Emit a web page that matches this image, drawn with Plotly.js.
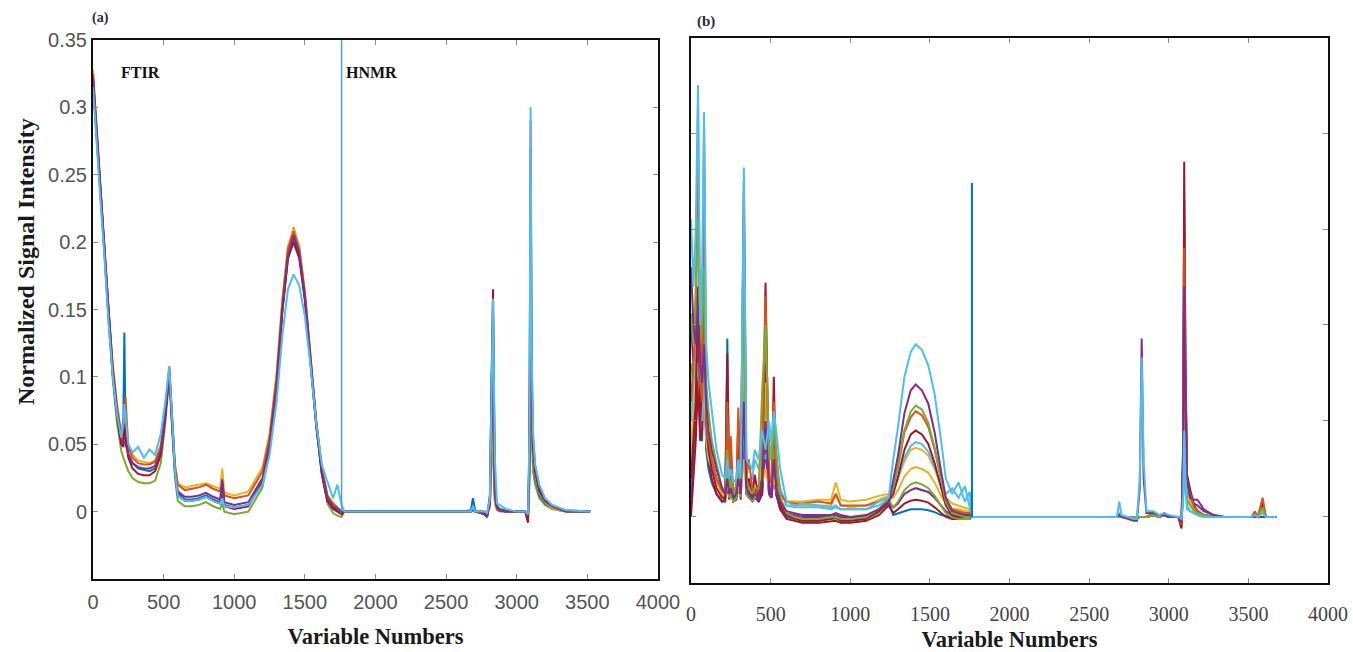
<!DOCTYPE html>
<html>
<head>
<meta charset="utf-8">
<script src="https://cdn.plot.ly/plotly-3.0.1.min.js"></script>
<style>html,body{margin:0;padding:0;background:#fff;}#chart{width:1353px;height:652px;}</style>
</head>
<body>
<div id="chart"></div>
<script>
// ---------- Panel (a) : variable grid ----------
const xA_ftir = [0, 20, 50, 80, 110, 140, 170, 200, 215, 222, 230, 250, 280, 320, 360, 400, 440, 480, 510, 540, 560, 580, 600, 650, 700, 750, 800, 850, 900, 915, 930, 1000, 1100, 1200, 1250, 1300, 1340, 1380, 1420, 1460, 1500, 1540, 1580, 1620, 1660, 1700, 1730, 1760];
const xA_hnmr = [1780, 2600, 2675, 2690, 2705, 2770, 2790, 2810, 2822, 2832, 2845, 2860, 2880, 2920, 3000, 3060, 3080, 3090, 3098, 3106, 3115, 3130, 3160, 3200, 3250, 3300, 3350, 3520];

const aBlue_ftir   = [0.318, 0.285, 0.24, 0.195, 0.142, 0.102, 0.072, 0.052, 0.07, 0.133, 0.06, 0.042, 0.036, 0.032, 0.031, 0.03, 0.032, 0.044, 0.07, 0.104, 0.066, 0.032, 0.014, 0.009, 0.009, 0.01, 0.012, 0.009, 0.007, 0.012, 0.005, 0.003, 0.005, 0.022, 0.047, 0.092, 0.148, 0.188, 0.203, 0.19, 0.158, 0.112, 0.064, 0.028, 0.008, 0.003, 0.001, 0.0];
const aOrange_ftir = [0.325, 0.292, 0.247, 0.2, 0.148, 0.108, 0.078, 0.057, 0.055, 0.06, 0.085, 0.048, 0.04, 0.036, 0.035, 0.035, 0.037, 0.048, 0.072, 0.107, 0.07, 0.034, 0.02, 0.016, 0.017, 0.018, 0.02, 0.017, 0.015, 0.02, 0.012, 0.01, 0.012, 0.03, 0.055, 0.1, 0.155, 0.195, 0.208, 0.195, 0.162, 0.115, 0.068, 0.032, 0.012, 0.006, 0.003, 0.0];
const aYellow_ftir = [0.328, 0.295, 0.25, 0.202, 0.15, 0.11, 0.08, 0.058, 0.055, 0.056, 0.065, 0.05, 0.042, 0.038, 0.037, 0.036, 0.038, 0.05, 0.075, 0.108, 0.072, 0.036, 0.021, 0.018, 0.019, 0.02, 0.021, 0.019, 0.017, 0.032, 0.014, 0.012, 0.015, 0.033, 0.058, 0.103, 0.157, 0.197, 0.21, 0.197, 0.163, 0.116, 0.068, 0.032, 0.012, 0.006, 0.003, 0.0];
const aPurple_ftir = [0.322, 0.29, 0.245, 0.198, 0.145, 0.105, 0.075, 0.055, 0.05, 0.052, 0.05, 0.043, 0.036, 0.033, 0.032, 0.032, 0.034, 0.045, 0.07, 0.105, 0.068, 0.031, 0.015, 0.011, 0.011, 0.012, 0.014, 0.011, 0.009, 0.024, 0.007, 0.005, 0.007, 0.025, 0.05, 0.095, 0.15, 0.19, 0.205, 0.192, 0.16, 0.113, 0.066, 0.03, 0.01, 0.004, 0.002, 0.0];
const aGreen_ftir  = [0.32, 0.288, 0.243, 0.196, 0.14, 0.098, 0.066, 0.045, 0.04, 0.038, 0.036, 0.03, 0.025, 0.022, 0.021, 0.021, 0.023, 0.036, 0.064, 0.1, 0.062, 0.026, 0.008, 0.004, 0.004, 0.005, 0.007, 0.004, 0.002, 0.006, 0.0, -0.002, 0.0, 0.018, 0.045, 0.092, 0.15, 0.192, 0.211, 0.196, 0.162, 0.114, 0.066, 0.028, 0.006, -0.001, -0.003, -0.004];
const aCyan_ftir   = [0.315, 0.28, 0.235, 0.19, 0.14, 0.1, 0.072, 0.055, 0.065, 0.08, 0.07, 0.05, 0.044, 0.048, 0.04, 0.046, 0.042, 0.058, 0.08, 0.108, 0.07, 0.03, 0.012, 0.008, 0.008, 0.009, 0.011, 0.008, 0.006, 0.01, 0.004, 0.003, 0.005, 0.02, 0.042, 0.082, 0.13, 0.165, 0.176, 0.168, 0.145, 0.108, 0.066, 0.035, 0.022, 0.01, 0.02, 0.005];
const aRed_ftir    = [0.321, 0.289, 0.244, 0.197, 0.143, 0.102, 0.07, 0.05, 0.048, 0.065, 0.055, 0.04, 0.032, 0.028, 0.027, 0.027, 0.03, 0.042, 0.068, 0.103, 0.065, 0.029, 0.012, 0.008, 0.008, 0.009, 0.011, 0.008, 0.006, 0.022, 0.004, 0.002, 0.004, 0.022, 0.048, 0.093, 0.148, 0.188, 0.2, 0.188, 0.157, 0.111, 0.064, 0.028, 0.008, 0.002, 0.0, -0.002];

const aBlue_hnmr   = [0, 0, 0.001, 0.01, 0.001, -0.002, -0.004, 0.01, 0.1, 0.15, 0.02, 0.004, 0.002, 0.001, 0, 0, -0.002, 0.03, 0.15, 0.07, 0.04, 0.025, 0.012, 0.006, 0.003, 0.001, 0, 0];
const aOrange_hnmr = [0, 0, 0, 0.002, 0, 0, -0.002, 0.005, 0.06, 0.1, 0.01, 0.002, 0.001, 0, 0, 0, -0.008, 0.05, 0.29, 0.1, 0.05, 0.03, 0.016, 0.008, 0.004, 0.002, 0, 0];
const aYellow_hnmr = [0, 0, 0, 0.001, 0, 0, -0.001, 0.004, 0.05, 0.08, 0.008, 0.002, 0.001, 0, 0, 0, -0.003, 0.04, 0.195, 0.08, 0.045, 0.028, 0.014, 0.007, 0.003, 0.001, 0, 0];
const aPurple_hnmr = [0, 0, 0, 0.002, 0, -0.002, -0.004, 0.006, 0.08, 0.12, 0.012, 0.003, 0.001, 0, 0, 0, -0.004, 0.05, 0.27, 0.11, 0.055, 0.034, 0.018, 0.009, 0.004, 0.002, 0.001, 0];
const aGreen_hnmr  = [0, 0, 0, 0.001, 0, 0, -0.001, 0.003, 0.04, 0.06, 0.006, 0.001, 0, 0, 0, 0, -0.002, 0.02, 0.09, 0.05, 0.03, 0.02, 0.01, 0.005, 0.002, 0.001, 0, 0];
const aCyan_hnmr   = [0, 0, 0, 0.004, 0, 0, -0.001, 0.01, 0.11, 0.158, 0.04, 0.006, 0.005, 0.002, 0, 0, -0.002, 0.06, 0.30, 0.12, 0.06, 0.035, 0.02, 0.01, 0.005, 0.003, 0.001, 0];
const aRed_hnmr    = [0, 0, 0, 0.002, 0, -0.001, -0.003, 0.012, 0.12, 0.165, 0.015, 0.003, 0.001, 0, 0, 0, -0.008, 0.04, 0.185, 0.085, 0.048, 0.03, 0.015, 0.008, 0.004, 0.002, 0, 0];

const aSeparatorX = [1760, 1760];
const aSeparatorY = [0, 0.35];

// ---------- Panel (b) : variable grid ----------
const xB_ftir = [0, 15, 30, 44, 58, 70, 82, 95, 110, 130, 160, 195, 215, 228, 240, 250, 265, 285, 297, 312, 332, 348, 363, 385, 400, 425, 447, 468, 490, 505, 520, 535, 560, 600, 650, 700, 800, 880, 909, 940, 1000, 1100, 1180, 1241, 1270, 1300, 1340, 1380, 1411, 1450, 1490, 1530, 1570, 1600, 1640, 1680, 1720, 1750, 1764];
const xB_hnmr = [1790, 2600, 2675, 2689, 2703, 2780, 2800, 2818, 2830, 2842, 2860, 2905, 2940, 2973, 3000, 3060, 3080, 3090, 3097, 3105, 3115, 3135, 3160, 3180, 3220, 3280, 3350, 3520, 3541, 3560, 3589, 3610, 3676];

const bCyan_ftir    = [0.155, 0.12, 0.15, 0.225, 0.1, 0.13, 0.211, 0.09, 0.07, 0.055, 0.035, 0.022, 0.02, 0.03, 0.02, 0.025, 0.018, 0.02, 0.03, 0.02, 0.182, 0.03, 0.028, 0.025, 0.035, 0.03, 0.045, 0.035, 0.05, 0.038, 0.055, 0.045, 0.025, 0.008, 0.006, 0.007, 0.006, 0.005, 0.006, 0.004, 0.004, 0.004, 0.008, 0.01, 0.03, 0.047, 0.073, 0.086, 0.09, 0.087, 0.079, 0.064, 0.04, 0.02, 0.012, 0.018, 0.008, 0.013, 0.0];
const bPurple_ftir  = [0.13, 0.1, 0.09, 0.11, 0.08, 0.07, 0.09, 0.06, 0.045, 0.035, 0.025, 0.015, 0.012, 0.02, 0.012, 0.015, 0.01, 0.012, 0.02, 0.012, 0.06, 0.015, 0.012, 0.01, 0.012, 0.01, 0.02, 0.05, 0.015, 0.012, 0.03, 0.015, 0.008, 0.003, 0.002, 0.001, 0.001, 0.001, 0.002, 0.001, 0.0, 0.001, 0.004, 0.008, 0.019, 0.032, 0.054, 0.066, 0.069, 0.066, 0.059, 0.044, 0.024, 0.01, 0.003, 0.002, 0.001, 0.001, 0.0];
const bGreen_ftir   = [0.106, 0.09, 0.12, 0.155, 0.09, 0.1, 0.13, 0.07, 0.055, 0.04, 0.028, 0.015, 0.012, 0.035, 0.013, 0.02, 0.01, 0.015, 0.025, 0.015, 0.12, 0.02, 0.015, 0.012, 0.015, 0.015, 0.066, 0.1, 0.03, 0.03, 0.05, 0.035, 0.01, 0.002, 0.0, -0.001, -0.001, 0.0, 0.0, -0.001, -0.001, 0.0, 0.004, 0.01, 0.015, 0.027, 0.045, 0.055, 0.058, 0.056, 0.049, 0.036, 0.02, 0.008, 0.002, 0.001, 0.0, 0.0, 0.0];
const bOrange_ftir  = [0.06, 0.08, 0.1, 0.216, 0.07, 0.06, 0.17, 0.05, 0.04, 0.03, 0.02, 0.014, 0.012, 0.06, 0.015, 0.042, 0.012, 0.015, 0.057, 0.015, 0.165, 0.02, 0.03, 0.015, 0.012, 0.015, 0.02, 0.115, 0.02, 0.018, 0.06, 0.02, 0.012, 0.008, 0.007, 0.007, 0.008, 0.007, 0.012, 0.006, 0.006, 0.006, 0.008, 0.01, 0.016, 0.026, 0.044, 0.052, 0.055, 0.053, 0.047, 0.035, 0.02, 0.009, 0.004, 0.003, 0.002, 0.002, 0.0];
const bRed_ftir     = [0.02, 0.04, 0.06, 0.12, 0.05, 0.07, 0.2, 0.05, 0.035, 0.025, 0.015, 0.01, 0.01, 0.085, 0.012, 0.03, 0.01, 0.012, 0.05, 0.012, 0.175, 0.015, 0.02, 0.01, 0.022, 0.01, 0.015, 0.122, 0.015, 0.012, 0.073, 0.015, 0.006, 0.001, -0.001, -0.002, -0.002, -0.001, 0.0, -0.002, -0.002, -0.001, 0.003, 0.008, 0.012, 0.021, 0.035, 0.043, 0.045, 0.043, 0.038, 0.028, 0.016, 0.006, 0.001, 0.0, 0.0, 0.0, 0.0];
const bCyan2_ftir   = [0.05, 0.07, 0.08, 0.1, 0.06, 0.05, 0.08, 0.045, 0.035, 0.025, 0.02, 0.015, 0.015, 0.025, 0.015, 0.02, 0.015, 0.015, 0.02, 0.015, 0.05, 0.02, 0.018, 0.02, 0.03, 0.025, 0.035, 0.03, 0.04, 0.03, 0.045, 0.03, 0.015, 0.006, 0.005, 0.005, 0.005, 0.004, 0.005, 0.004, 0.004, 0.004, 0.006, 0.009, 0.013, 0.02, 0.031, 0.037, 0.039, 0.038, 0.034, 0.026, 0.016, 0.012, 0.015, 0.01, 0.016, 0.006, 0.0];
const bYellow_ftir  = [0.03, 0.06, 0.09, 0.19, 0.08, 0.1, 0.15, 0.06, 0.04, 0.03, 0.02, 0.014, 0.013, 0.05, 0.015, 0.025, 0.013, 0.015, 0.03, 0.015, 0.1, 0.02, 0.02, 0.015, 0.015, 0.015, 0.03, 0.07, 0.02, 0.018, 0.04, 0.018, 0.01, 0.008, 0.008, 0.008, 0.009, 0.009, 0.018, 0.009, 0.008, 0.009, 0.011, 0.012, 0.014, 0.02, 0.029, 0.035, 0.036, 0.035, 0.032, 0.025, 0.016, 0.01, 0.007, 0.006, 0.005, 0.004, 0.0];
const bYellow2_ftir = [0.04, 0.05, 0.07, 0.08, 0.06, 0.05, 0.07, 0.04, 0.03, 0.025, 0.018, 0.012, 0.011, 0.02, 0.012, 0.015, 0.011, 0.012, 0.015, 0.012, 0.03, 0.014, 0.015, 0.012, 0.012, 0.013, 0.018, 0.025, 0.015, 0.014, 0.02, 0.014, 0.008, 0.006, 0.006, 0.006, 0.006, 0.006, 0.012, 0.006, 0.005, 0.006, 0.009, 0.011, 0.01, 0.014, 0.021, 0.025, 0.026, 0.025, 0.023, 0.018, 0.011, 0.007, 0.004, 0.004, 0.003, 0.003, 0.0];
const bGreen2_ftir  = [0.08, 0.07, 0.085, 0.12, 0.07, 0.075, 0.1, 0.055, 0.04, 0.03, 0.02, 0.012, 0.01, 0.02, 0.01, 0.012, 0.008, 0.01, 0.015, 0.01, 0.08, 0.012, 0.01, 0.008, 0.01, 0.012, 0.04, 0.06, 0.02, 0.02, 0.04, 0.025, 0.008, 0.001, -0.001, -0.002, -0.002, -0.001, -0.001, -0.002, -0.002, -0.001, 0.002, 0.009, 0.005, 0.008, 0.014, 0.017, 0.018, 0.017, 0.015, 0.011, 0.006, 0.002, 0.0, -0.001, -0.001, -0.001, 0.0];
const bPurple2_ftir = [0.1, 0.08, 0.07, 0.09, 0.06, 0.055, 0.07, 0.045, 0.035, 0.028, 0.02, 0.012, 0.01, 0.015, 0.01, 0.012, 0.009, 0.01, 0.015, 0.01, 0.04, 0.012, 0.01, 0.009, 0.01, 0.009, 0.015, 0.035, 0.012, 0.01, 0.02, 0.012, 0.006, 0.002, 0.001, 0.0, 0.0, 0.0, 0.001, 0.0, 0.0, 0.0, 0.003, 0.007, 0.005, 0.007, 0.012, 0.014, 0.015, 0.014, 0.013, 0.01, 0.006, 0.003, 0.001, 0.001, 0.0, 0.0, 0.0];
const bRed2_ftir    = [0.0, 0.02, 0.04, 0.07, 0.04, 0.045, 0.12, 0.04, 0.03, 0.02, 0.012, 0.008, 0.008, 0.06, 0.009, 0.02, 0.008, 0.009, 0.035, 0.009, 0.12, 0.012, 0.015, 0.008, 0.015, 0.008, 0.012, 0.08, 0.012, 0.01, 0.05, 0.012, 0.004, -0.001, -0.002, -0.003, -0.003, -0.002, -0.002, -0.003, -0.003, -0.002, 0.001, 0.006, 0.002, 0.004, 0.007, 0.0085, 0.009, 0.0085, 0.0075, 0.005, 0.002, 0.0, -0.001, -0.001, -0.001, -0.001, 0.0];
const bBlue_ftir    = [0.01, 0.03, 0.05, 0.09, 0.04, 0.04, 0.09, 0.035, 0.025, 0.018, 0.012, 0.008, 0.01, 0.093, 0.01, 0.015, 0.008, 0.01, 0.03, 0.01, 0.09, 0.012, 0.012, 0.008, 0.01, 0.008, 0.012, 0.05, 0.012, 0.01, 0.035, 0.012, 0.004, 0.0, -0.001, -0.001, -0.001, -0.001, 0.0, -0.001, -0.001, 0.0, 0.003, 0.008, 0.001, 0.002, 0.003, 0.004, 0.004, 0.004, 0.0035, 0.0025, 0.001, 0.0005, 0.0, 0.0, 0.0, 0.0, 0.0];

const bCyan_hnmr    = [0, 0, 0, 0.008, 0.001, -0.001, -0.001, 0.02, 0.083, 0.03, 0.003, 0.003, 0.001, 0.002, 0.001, 0, -0.001, 0.01, 0.045, 0.02, 0.006, 0.003, 0.002, 0.001, 0, 0, 0, 0, 0.001, 0, 0.002, 0, 0];
const bPurple_hnmr  = [0, 0, 0, 0.001, 0, -0.002, -0.002, 0.015, 0.093, 0.02, 0.002, 0.002, 0.001, 0.001, 0, 0, -0.003, 0.03, 0.12, 0.06, 0.02, 0.01, 0.009, 0.009, 0.004, 0.001, 0, 0, 0, 0, 0, 0, 0];
const bGreen_hnmr   = [0, 0, 0, 0, 0, 0, 0, 0, 0, 0, 0, 0.001, 0, 0.001, 0, 0, -0.002, 0.012, 0.06, 0.027, 0.008, 0.006, 0.003, 0.002, 0.001, 0, 0, 0, 0, 0, 0.005, 0, 0];
const bOrange_hnmr  = [0, 0, 0, 0, 0, 0, 0, 0, 0, 0, 0, 0.002, 0, 0.002, 0, 0, -0.004, 0.028, 0.14, 0.063, 0.017, 0.012, 0.005, 0.003, 0.001, 0, 0, 0, 0.003, 0, 0.01, 0, 0];
const bRed_hnmr     = [0, 0, 0, 0, 0, 0, 0, 0, 0, 0, 0, 0.001, 0, 0.001, 0, 0, -0.005, 0.037, 0.185, 0.083, 0.022, 0.014, 0.006, 0.003, 0.001, 0, 0, 0, 0.001, 0, 0.008, 0, 0];
const bCyan2_hnmr   = [0, 0, 0, 0.002, 0, 0, 0, 0, 0, 0, 0, 0.001, 0, 0.001, 0, 0, -0.001, 0.006, 0.03, 0.014, 0.004, 0.003, 0.002, 0.001, 0, 0, 0, 0, 0, 0, 0, 0, 0];
const bYellow_hnmr  = [0, 0, 0, 0, 0, 0, 0, 0, 0, 0, 0, 0.002, 0, 0.002, 0, 0, -0.003, 0.032, 0.16, 0.072, 0.019, 0.012, 0.005, 0.003, 0.001, 0, 0, 0, 0.002, 0, 0.004, 0, 0];
const bYellow2_hnmr = [0, 0, 0, 0, 0, 0, 0, 0, 0, 0, 0, 0.001, 0, 0.001, 0, 0, -0.002, 0.018, 0.09, 0.04, 0.011, 0.008, 0.004, 0.002, 0.001, 0, 0, 0, 0, 0, 0.002, 0, 0];
const bGreen2_hnmr  = [0, 0, 0, 0, 0, 0, 0, 0, 0, 0, 0, 0.001, 0, 0.001, 0, 0, -0.002, 0.015, 0.075, 0.034, 0.009, 0.007, 0.003, 0.002, 0.001, 0, 0, 0, 0, 0, 0.003, 0, 0];
const bPurple2_hnmr = [0, 0, 0, 0, 0, 0, 0, 0, 0, 0, 0, 0.001, 0, 0.001, 0, 0, -0.003, 0.02, 0.1, 0.045, 0.012, 0.008, 0.007, 0.006, 0.003, 0.001, 0, 0, 0, 0, 0, 0, 0];
const bRed2_hnmr    = [0, 0, 0, 0, 0, 0, 0, 0, 0, 0, 0, 0.001, 0, 0.001, 0, 0, -0.006, 0.026, 0.13, 0.058, 0.016, 0.011, 0.005, 0.003, 0.001, 0, 0, 0, 0, 0, 0.006, 0, 0];
const bBlue_hnmr    = [0, 0, 0, 0.001, 0, -0.001, -0.001, 0, 0, 0, 0, 0.001, 0, 0.001, 0, 0, -0.003, 0.033, 0.165, 0.074, 0.02, 0.012, 0.005, 0.003, 0.001, 0, 0, 0, 0, 0, 0, 0, 0];

const bSeparatorX = [1764, 1764];
const bSeparatorY = [0, 0.174];

// tick labels
const xTickVals = [0, 500, 1000, 1500, 2000, 2500, 3000, 3500, 4000];
const xTickText = ['0', '500', '1000', '1500', '2000', '2500', '3000', '3500', '4000'];
const yTickValsA = [0, 0.05, 0.1, 0.15, 0.2, 0.25, 0.3, 0.35];
const yTickTextA = ['0', '0.05', '0.1', '0.15', '0.2', '0.25', '0.3', '0.35'];
const yTickValsB = [0, 0.05, 0.1, 0.15, 0.2];

// ---------- build ----------
const C = {blue:'#0072BD', orange:'#D95319', yellow:'#EDB120', purple:'#7E2F8E', green:'#77AC30', cyan:'#4DBEEE', red:'#A2142F'};

function tr(xs, ys, color, w, xa, ya) {
  return {x: xs, y: ys, type: 'scatter', mode: 'lines', line: {color: color, width: w},
          xaxis: xa, yaxis: ya, hoverinfo: 'skip', showlegend: false};
}
const xA = xA_ftir.concat(xA_hnmr);
const xB = xB_ftir.concat(xB_hnmr);
const wA = 2, wB = 2;

const traces = [
  tr(xA, aGreen_ftir.concat(aGreen_hnmr), C.green, wA, 'x', 'y'),
  tr(xA, aBlue_ftir.concat(aBlue_hnmr), C.blue, wA, 'x', 'y'),
  tr(xA, aYellow_ftir.concat(aYellow_hnmr), C.yellow, wA, 'x', 'y'),
  tr(xA, aOrange_ftir.concat(aOrange_hnmr), C.orange, wA, 'x', 'y'),
  tr(xA, aRed_ftir.concat(aRed_hnmr), C.red, wA, 'x', 'y'),
  tr(xA, aPurple_ftir.concat(aPurple_hnmr), C.purple, wA, 'x', 'y'),
  tr(xA, aCyan_ftir.concat(aCyan_hnmr), C.cyan, wA, 'x', 'y'),
  tr(aSeparatorX, aSeparatorY, '#4A9FDF', 1.5, 'x', 'y'),

  tr(xB, bBlue_ftir.concat(bBlue_hnmr), C.blue, wB, 'x2', 'y2'),
  tr(xB, bRed2_ftir.concat(bRed2_hnmr), C.red, wB, 'x2', 'y2'),
  tr(xB, bPurple2_ftir.concat(bPurple2_hnmr), C.purple, wB, 'x2', 'y2'),
  tr(xB, bGreen2_ftir.concat(bGreen2_hnmr), C.green, wB, 'x2', 'y2'),
  tr(xB, bYellow2_ftir.concat(bYellow2_hnmr), C.yellow, wB, 'x2', 'y2'),
  tr(xB, bYellow_ftir.concat(bYellow_hnmr), C.yellow, wB, 'x2', 'y2'),
  tr(xB, bCyan2_ftir.concat(bCyan2_hnmr), C.cyan, wB, 'x2', 'y2'),
  tr(xB, bRed_ftir.concat(bRed_hnmr), C.red, wB, 'x2', 'y2'),
  tr(xB, bOrange_ftir.concat(bOrange_hnmr), C.orange, wB, 'x2', 'y2'),
  tr(xB, bGreen_ftir.concat(bGreen_hnmr), C.green, wB, 'x2', 'y2'),
  tr(xB, bPurple_ftir.concat(bPurple_hnmr), C.purple, wB, 'x2', 'y2'),
  tr(xB, bCyan_ftir.concat(bCyan_hnmr), C.cyan, wB, 'x2', 'y2'),
  tr(bSeparatorX, bSeparatorY, C.blue, 2, 'x2', 'y2')
];

const W = 1353, H = 652;
const serifBoldX = {family: 'Liberation Serif, Times New Roman, serif', size: 22.5, color: '#1a1a1a', weight: 'bold'};
const serifBoldY = {family: 'Liberation Serif, Times New Roman, serif', size: 24, color: '#1a1a1a', weight: 'bold'};

const baseAxis = {
  showline: true, linecolor: '#111', linewidth: 2, mirror: 'allticks',
  ticks: 'inside', ticklen: 5, tickwidth: 1, tickcolor: '#8a8a8a',
  showgrid: false, zeroline: false, automargin: false, fixedrange: true
};

const layout = {
  width: W, height: H,
  margin: {l: 0, r: 0, t: 0, b: 0},
  paper_bgcolor: '#fff', plot_bgcolor: '#fff',
  showlegend: false,
  xaxis: Object.assign({}, baseAxis, {
    domain: [93 / W, 658 / W], range: [0, 4000], anchor: 'y',
    tickmode: 'array', tickvals: xTickVals, ticktext: xTickText,
    tickfont: {family: 'Liberation Sans, Arial, sans-serif', size: 20, color: '#555'},
    ticklabelstandoff: 4,
    title: {text: 'Variable Numbers', font: serifBoldX, standoff: 16}
  }),
  yaxis: Object.assign({}, baseAxis, {
    domain: [(H - 579) / H, (H - 40) / H], range: [-0.05, 0.35], anchor: 'x',
    tickmode: 'array', tickvals: yTickValsA, ticktext: yTickTextA,
    tickfont: {family: 'Liberation Sans, Arial, sans-serif', size: 20, color: '#555'}
  }),
  xaxis2: Object.assign({}, baseAxis, {
    domain: [691 / W, 1328 / W], range: [0, 4000], anchor: 'y2',
    tickmode: 'array', tickvals: xTickVals, ticktext: xTickText,
    tickfont: {family: 'Liberation Serif, Times New Roman, serif', size: 20, color: '#444'},
    ticklabelstandoff: 12,
    title: {text: 'Variable Numbers', font: serifBoldX, standoff: 8}
  }),
  yaxis2: Object.assign({}, baseAxis, {
    domain: [(H - 583) / H, (H - 38) / H], range: [-0.0344, 0.2495], anchor: 'x2',
    tickmode: 'array', tickvals: yTickValsB, showticklabels: false
  }),
  annotations: [
    {text: 'Normalized Signal Intensity', xref: 'paper', yref: 'paper', x: 26 / W, y: (H - 262) / H,
     textangle: -90, showarrow: false, xanchor: 'center', yanchor: 'middle', font: serifBoldY},
    {text: '(a)', xref: 'paper', yref: 'paper', x: 100 / W, y: (H - 18) / H, showarrow: false,
     xanchor: 'center', yanchor: 'middle',
     font: {family: 'Liberation Serif, serif', size: 14, color: '#2a2a3a', weight: 'bold'}},
    {text: '(b)', xref: 'paper', yref: 'paper', x: 706 / W, y: (H - 21) / H, showarrow: false,
     xanchor: 'center', yanchor: 'middle',
     font: {family: 'Liberation Serif, serif', size: 15, color: '#2a2a3a', weight: 'bold'}},
    {text: 'FTIR', xref: 'x', yref: 'y', x: 333, y: 0.326, showarrow: false,
     xanchor: 'center', yanchor: 'middle',
     font: {family: 'Liberation Serif, serif', size: 16, color: '#111', weight: 'bold'}},
    {text: 'HNMR', xref: 'x', yref: 'y', x: 1972, y: 0.326, showarrow: false,
     xanchor: 'center', yanchor: 'middle',
     font: {family: 'Liberation Serif, serif', size: 16, color: '#111', weight: 'bold'}}
  ]
};

Plotly.newPlot('chart', traces, layout, {displayModeBar: false, staticPlot: true});
</script>
</body>
</html>
